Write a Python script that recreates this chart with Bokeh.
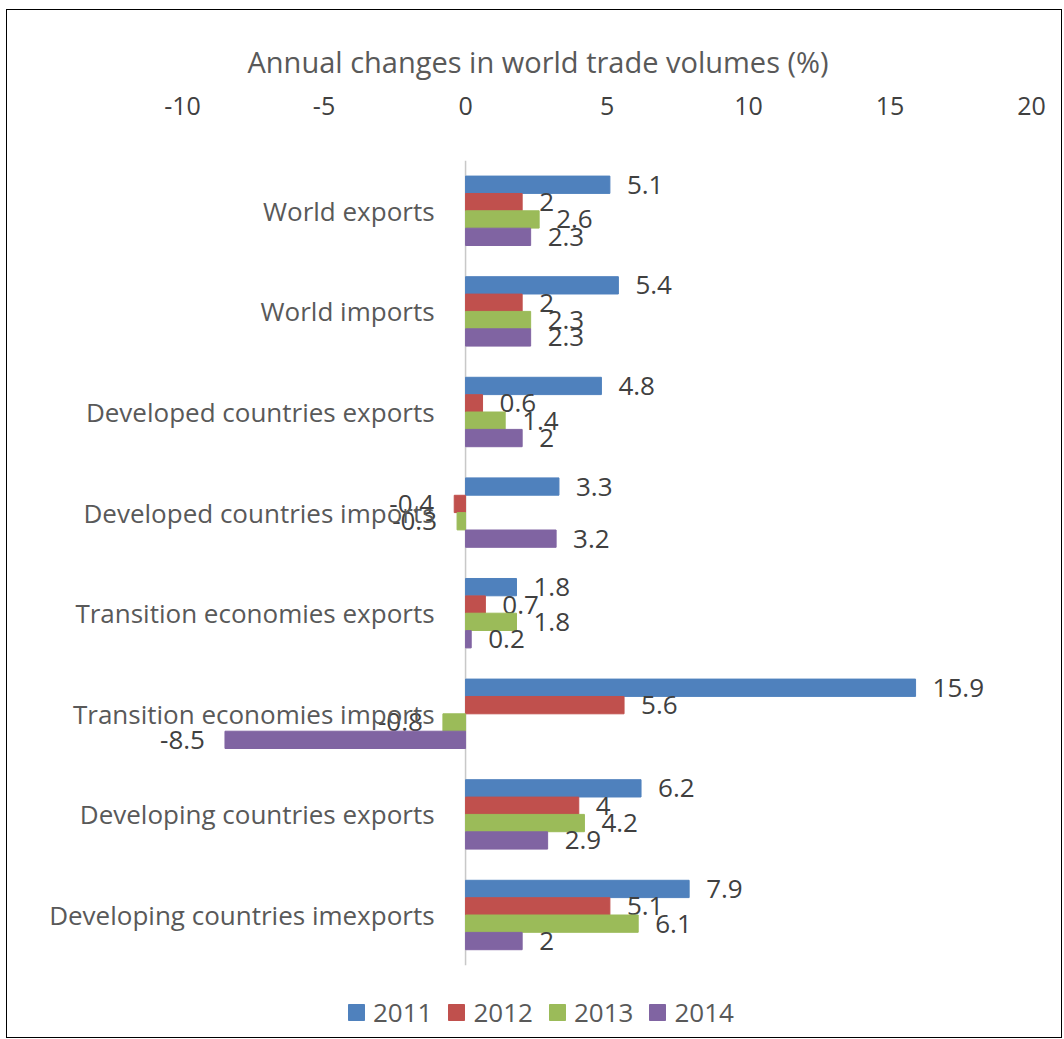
from bokeh.plotting import figure
from bokeh.models import Range1d, FixedTicker, Legend, LegendItem, ColumnDataSource
from bokeh.transform import dodge
from bokeh.core.properties import value
from bokeh.embed import file_html
from bokeh.resources import INLINE

categories = ["World exports", "World imports", "Developed countries exports",
              "Developed countries imports", "Transition economies exports",
              "Transition economies imports", "Developing countries exports",
              "Developing countries imexports"]
years = ["2011", "2012", "2013", "2014"]
v2011 = [5.1, 5.4, 4.8, 3.3, 1.8, 15.9, 6.2, 7.9]
v2012 = [2, 2, 0.6, -0.4, 0.7, 5.6, 4, 5.1]
v2013 = [2.6, 2.3, 1.4, -0.3, 1.8, -0.8, 4.2, 6.1]
v2014 = [2.3, 2.3, 2, 3.2, 0.2, -8.5, 2.9, 2]
x_ticks = [-10, -5, 0, 5, 10, 15, 20]
title_text = "Annual changes in world trade volumes (%)"

colors = ["#4F81BD", "#C0504D", "#9BBB59", "#8064A2"]
FONT = "Open Sans"

# layout (pixels)
FRAME_W, FRAME_H = 1024, 877
BAND_PX = 100.6
n = len(categories)
pos = list(range(n))
y_top = -0.5
y_bottom = y_top + FRAME_H / BAND_PX

p = figure(frame_width=FRAME_W, frame_height=FRAME_H,
           y_range=Range1d(y_bottom, y_top),
           x_range=Range1d(-15.76, 20.42),
           x_axis_location="above", y_axis_location=None,
           output_backend="svg", toolbar_location=None,
           min_border_left=12, min_border_right=18,
           min_border_top=150, min_border_bottom=0)
p.styles = {"border": "1px solid black", "margin-left": "6px", "margin-top": "9px"}
p.outline_line_color = None
p.xgrid.visible = False
p.ygrid.visible = False

p.title.text = title_text
p.title.align = "left"
p.title.offset = 228
p.title.text_font = FONT
p.title.text_font_size = "29px"
p.title.text_font_style = "normal"
p.title.text_color = "#595959"
p.title.standoff = 26

ax = p.xaxis[0]
ax.ticker = FixedTicker(ticks=x_ticks)
ax.major_label_overrides = {t: str(t) for t in x_ticks}
ax.axis_line_color = None
ax.major_tick_line_color = None
ax.minor_tick_line_color = None
ax.major_label_standoff = 40
ax.major_label_text_font = FONT
ax.major_label_text_font_size = "25px"
ax.major_label_text_color = "#404040"

# vertical value axis line at 0, spanning the category bands
p.segment(x0=0, y0=pos[0] - 0.5, x1=0, y1=pos[-1] + 0.5,
          line_color="#c8c8c8", line_width=1.5)

series = [v2011, v2012, v2013, v2014]
offsets = [-0.259, -0.086, 0.086, 0.259]
bar_h = 0.172
items = []
for yr, vals, col, off in zip(years, series, colors, offsets):
    src = ColumnDataSource(dict(
        pos=pos, val=vals,
        label=[f"{v:g}" for v in vals],
        align=["left" if v >= 0 else "right" for v in vals],
        xoff=[17 if v >= 0 else -20 for v in vals],
    ))
    yd = dodge("pos", off)
    r = p.hbar(y=yd, left=0, right="val", height=bar_h, fill_color=col,
               line_color=col, source=src)
    p.text(x="val", y=yd, text="label", text_align="align", x_offset="xoff",
           text_baseline="middle", text_font=value(FONT), text_font_size="26px",
           text_color="#404040", source=src)
    items.append(LegendItem(label=yr, renderers=[r]))

csrc = ColumnDataSource(dict(pos=pos, cat=categories))
p.text(x=0, y="pos", text="cat", x_offset=-31, text_align="right",
       text_baseline="middle", text_font=value(FONT), text_font_size="26px",
       text_color="#595959", source=csrc)

legend = Legend(items=items, orientation="horizontal", location=(327, 7),
                border_line_color=None, background_fill_alpha=0,
                label_text_font=FONT, label_text_font_size="26px",
                label_text_color="#595959", glyph_width=20, glyph_height=20,
                spacing=14, label_standoff=7, padding=0, margin=0)
p.add_layout(legend)

open("out.html", "w").write(file_html(p, INLINE))
